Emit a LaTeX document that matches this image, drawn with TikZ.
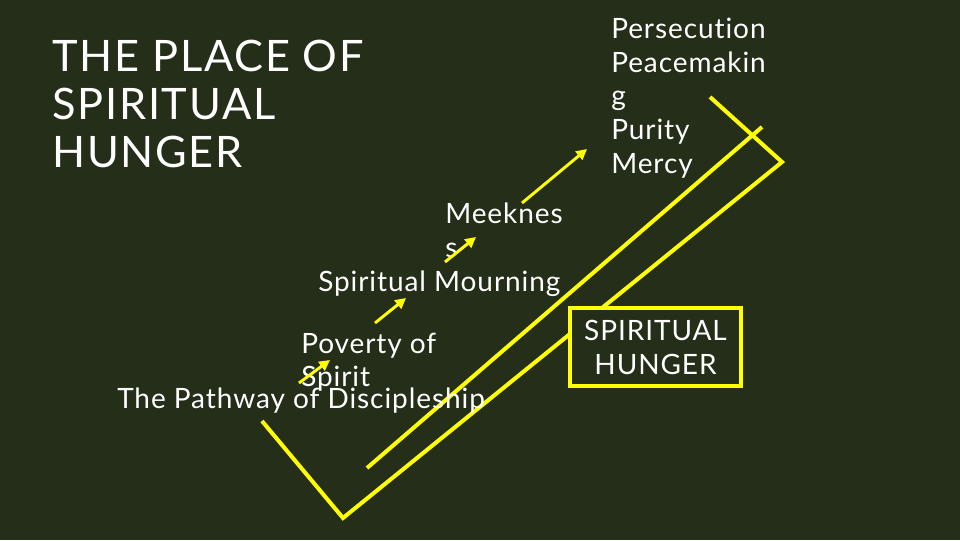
\documentclass[tikz,border=0pt]{standalone}
\usepackage{fontspec}
\setmainfont[LetterSpace=3.3,Ligatures=NoCommon]{Lato}
\newfontfamily\titlefont[LetterSpace=4,Ligatures=NoCommon]{Lato}
\usetikzlibrary{arrows.meta}
\definecolor{board}{RGB}{36,46,24}
\definecolor{chalkyellow}{RGB}{255,255,0}
\begin{document}
\begin{tikzpicture}[x=0.75pt,y=-0.75pt,
  txt/.style={text=white,font=\fontsize{21}{25.5}\selectfont,inner sep=0pt,anchor=base west},
  ttl/.style={text=white,font=\titlefont\fontsize{32.5}{36}\selectfont,inner sep=0pt,anchor=base west},
  yline/.style={draw=chalkyellow,line width=3pt},
  yarrow/.style={draw=chalkyellow,line width=2.2pt,-{Triangle[length=8pt,width=8pt]}},
  hbox/.style={draw=chalkyellow,fill=board,line width=3pt,minimum width=128pt,minimum height=58.5pt,
    text=white,align=center,font=\fontsize{21}{25.5}\selectfont,inner sep=0pt}]
\fill[board] (0,0) rectangle (960,540);
\useasboundingbox (0,0) rectangle (960,540);
% big V path
\coordinate (la) at (262,421);
\coordinate (lb) at (343,518);
\coordinate (lc) at (782,162);
\coordinate (ld) at (710,97);
\draw[yline] (la) -- (lb) -- (lc) -- (ld);
\coordinate (ia) at (367,468);
\coordinate (ib) at (762,127);
\draw[yline] (ia) -- (ib);
% box
\node[hbox] (hunger) at (655.5,347) {SPIRITUAL\\HUNGER};
% title
\node[ttl] (t1) at (52,71) {THE PLACE OF};
\node[ttl] (t2) at (52,119) {SPIRITUAL};
\node[ttl] (t3) at (52,167) {HUNGER};
% right list
\node[txt] (r1) at (611,38) {Persecution};
\node[txt] (r2) at (611,72) {Peacemakin};
\node[txt] (r3) at (611,105) {g};
\node[txt] (r4) at (611,139) {Purity};
\node[txt] (r5) at (611,173) {Mercy};
% middle
\node[txt] (m1) at (445,223) {Meeknes};
\node[txt] (m2) at (445,257) {s};
\node[txt] (m3) at (318,291) {Spiritual Mourning};
\node[txt] (p1) at (301,353) {Poverty of};
\node[txt] (p2) at (301,386) {Spirit};
\node[txt] (p3) at (117,408) {The Pathway of Discipleship};
% arrows
\coordinate (a1s) at (299,383); \coordinate (a1e) at (330,360);
\coordinate (a2s) at (375,323); \coordinate (a2e) at (406,298);
\coordinate (a3s) at (445,262); \coordinate (a3e) at (476,237);
\coordinate (a4s) at (522,203); \coordinate (a4e) at (587,149);
\draw[yarrow] (a1s) -- (a1e);
\draw[yarrow] (a2s) -- (a2e);
\draw[yarrow] (a3s) -- (a3e);
\draw[yarrow] (a4s) -- (a4e);
\end{tikzpicture}
\end{document}
